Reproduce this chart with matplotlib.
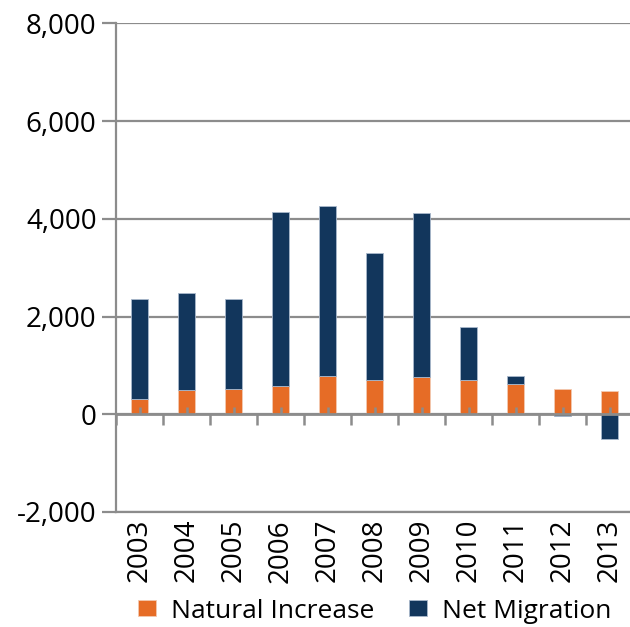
import numpy as np
import matplotlib.pyplot as plt

years = ["2003", "2004", "2005", "2006", "2007", "2008", "2009", "2010", "2011", "2012", "2013"]
natural_increase = [317, 501, 521, 583, 787, 705, 753, 705, 610, 508, 474]
net_migration = [2045, 1977, 1847, 3552, 3471, 2591, 3367, 1078, 163, -45, -500]

orange = "#E66C26"
navy = "#12365C"
grey = "#8C8C8C"

plt.rcParams["font.family"] = ["Open Sans", "DejaVu Sans"]

fig = plt.figure(figsize=(6.3, 6.27), dpi=100)
ax = fig.add_axes([116 / 630, 1 - 512 / 627, 517 / 630, (512 - 23.3) / 627])

x = np.arange(len(years))
ni = np.array(natural_increase)
nm = np.array(net_migration)
# negative migration hangs below zero, positive sits on top of natural increase
nm_bottom = np.where(nm >= 0, ni, 0)

ax.bar(x, ni, width=0.38, color=orange, edgecolor="#f2c9b0", linewidth=0.6,
       label="Natural Increase", zorder=3)
ax.bar(x, nm, bottom=nm_bottom, width=0.38, color=navy, edgecolor="#a9b8cc",
       linewidth=0.6, label="Net Migration", zorder=3)

ax.set_xlim(-0.5, len(years) - 0.5)
ax.set_ylim(-2000, 8000)
ax.set_yticks(np.arange(-2000, 8001, 2000))
ax.set_yticklabels([f"{v:,}" for v in range(-2000, 8001, 2000)])
ax.yaxis.grid(True, color=grey, linewidth=1.6, zorder=0)

ax.set_xticks(x)
ax.set_xticklabels(years, rotation=90)
ax.tick_params(axis="x", length=0, pad=5, labelsize=20)
ax.tick_params(axis="y", length=10, width=1.6, color=grey, pad=4, labelsize=20)

for side in ["top", "right"]:
    ax.spines[side].set_visible(False)
for side in ["left", "bottom"]:
    ax.spines[side].set_color(grey)
    ax.spines[side].set_linewidth(1.6)

# zero line with its own category ticks
ax.axhline(0, color=grey, linewidth=2, zorder=4)
bounds = np.arange(-0.5, len(years), 1.0)
ax.plot(bounds, np.zeros_like(bounds), ls="", marker=3, ms=8, mew=1.8,
        color=grey, zorder=4, clip_on=False)
ax.plot(x, np.zeros_like(x), ls="", marker=2, ms=5, mew=1.8, color=grey, zorder=4)

fig.legend(loc="center left", bbox_to_anchor=(138 / 630, 1 - 611 / 627), ncol=2,
           frameon=False, fontsize=19, borderpad=0, borderaxespad=0,
           handlelength=0.68, handleheight=0.53, handletextpad=0.57,
           columnspacing=1.33)

fig.savefig("out.png", dpi=100)
